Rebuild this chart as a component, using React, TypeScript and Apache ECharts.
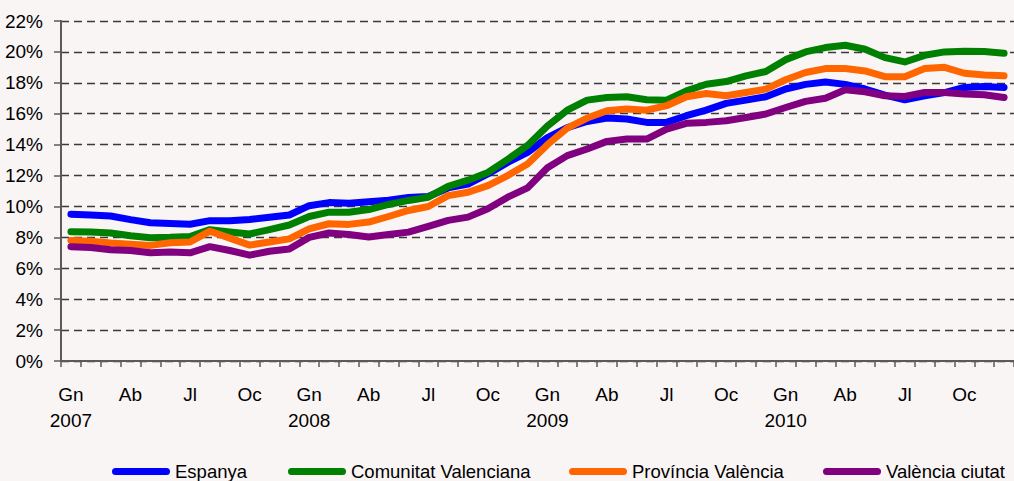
import React, { useEffect, useRef } from "react";
import * as echarts from "echarts";

const monthAbbr = ["Gn", "Fb", "Mç", "Ab", "Mg", "Jn", "Jl", "Ag", "St", "Oc", "Nv", "Ds"];
const years = ["2007", "2008", "2009", "2010"];
const categories: string[] = years.flatMap((y) => monthAbbr.map((m) => `${m} ${y}`));

const seriesNames = ["Espanya", "Comunitat Valenciana", "Província València", "València ciutat"];
const seriesColors = ["#0000FF", "#008000", "#FF6600", "#800080"];

const espanya = [
  9.5, 9.45, 9.38, 9.15, 8.95, 8.9, 8.85, 9.08, 9.08, 9.15, 9.3, 9.45,
  10.05, 10.25, 10.2, 10.3, 10.4, 10.58, 10.65, 11.2, 11.45, 12.1, 12.85, 13.5,
  14.45, 15.1, 15.5, 15.72, 15.66, 15.44, 15.44, 15.87, 16.23, 16.67, 16.88, 17.1,
  17.6, 17.9, 18.05, 17.9, 17.6, 17.2, 16.9, 17.16, 17.37, 17.7, 17.76, 17.7,
];
const comunitat = [
  8.37, 8.35, 8.28, 8.1, 7.98, 8.0, 8.05, 8.5, 8.35, 8.22, 8.5, 8.8,
  9.35, 9.63, 9.63, 9.8, 10.13, 10.39, 10.6, 11.3, 11.7, 12.2, 13.05, 13.95,
  15.2, 16.23, 16.88, 17.05, 17.1, 16.9, 16.88, 17.48, 17.91, 18.08, 18.45, 18.73,
  19.5, 20.0, 20.28, 20.43, 20.17, 19.63, 19.35, 19.78, 20.0, 20.04, 20.02, 19.92,
];
const provincia = [
  7.8, 7.75, 7.63, 7.55, 7.48, 7.65, 7.7, 8.4, 7.95, 7.5, 7.7, 7.9,
  8.55, 8.88, 8.84, 8.99, 9.35, 9.74, 10.0, 10.7, 10.92, 11.35, 12.0, 12.75,
  14.0, 15.07, 15.72, 16.19, 16.3, 16.23, 16.52, 17.1, 17.31, 17.16, 17.37, 17.59,
  18.2, 18.67, 18.92, 18.92, 18.77, 18.4, 18.4, 18.92, 19.0, 18.62, 18.5, 18.45,
];
const ciutat = [
  7.4, 7.35, 7.2, 7.15, 7.0, 7.05, 7.0, 7.4, 7.15, 6.85, 7.1, 7.25,
  8.0, 8.28, 8.19, 8.02, 8.19, 8.34, 8.71, 9.1, 9.31, 9.85, 10.6, 11.2,
  12.5, 13.29, 13.72, 14.21, 14.36, 14.36, 15.01, 15.38, 15.44, 15.55, 15.76, 15.98,
  16.4, 16.8, 17.0, 17.55, 17.42, 17.16, 17.12, 17.37, 17.37, 17.27, 17.23, 17.05,
];
const seriesData = [espanya, comunitat, provincia, ciutat];
const legendLefts = [112, 288, 569, 823];

const FONT = "'Liberation Sans', Arial, sans-serif";
const ICON = "path://M3.5,0 H54.5 A3.5,3.5 0 0 1 54.5,7 H3.5 A3.5,3.5 0 0 1 3.5,0 Z";

export default function App() {
  const ref = useRef<HTMLDivElement>(null);
  useEffect(() => {
    if (!ref.current) return;
    const chart = echarts.init(ref.current, undefined, { renderer: "svg" });
    chart.setOption({
      animation: false,
      backgroundColor: "#FAF5F5",
      textStyle: { fontFamily: FONT },
      grid: { left: 61, top: 21, bottom: 120, right: -11 },
      legend: seriesNames.map((n, i) => ({
        data: [n],
        left: legendLefts[i],
        top: 462,
        padding: 0,
        itemWidth: 58,
        itemHeight: 7,
        icon: ICON,
        textStyle: { fontFamily: FONT, fontSize: 18.5, color: "#000", lineHeight: 18 },
      })),
      xAxis: {
        type: "category",
        data: categories,
        boundaryGap: true,
        axisLine: { lineStyle: { color: "#5a5a5a", width: 2 } },
        axisTick: { show: true, length: 6, interval: 0, lineStyle: { color: "#5a5a5a", width: 1.5 } },
        axisLabel: {
          interval: 2,
          margin: 20,
          fontFamily: FONT,
          fontSize: 19,
          lineHeight: 26,
          color: "#000",
          formatter: (val: string) => {
            const [m, y] = val.split(" ");
            return m === "Gn" ? `${m}\n${y}` : m;
          },
        },
        splitLine: { show: false },
      },
      yAxis: {
        type: "value",
        min: 0,
        max: 22,
        interval: 2,
        axisLine: { show: true, lineStyle: { color: "#5a5a5a", width: 2 } },
        axisTick: { show: true, length: 7, lineStyle: { color: "#5a5a5a", width: 1.5 } },
        axisLabel: {
          margin: 18,
          fontFamily: FONT,
          fontSize: 19,
          color: "#000",
          formatter: "{value}%",
        },
        splitLine: { show: true, lineStyle: { color: "#3a3a3a", width: 1.3, type: [8, 5] } },
      },
      series: seriesNames.map((n, i) => ({
        name: n,
        type: "line",
        data: seriesData[i],
        showSymbol: false,
        symbol: "none",
        color: seriesColors[i],
        lineStyle: { color: seriesColors[i], width: 7, cap: "round", join: "round" },
        itemStyle: { color: seriesColors[i] },
      })),
    });
    return () => chart.dispose();
  }, []);
  return (
    <div
      ref={ref}
      style={{ position: "absolute", left: 0, top: 0, width: 1014, height: 481 }}
    />
  );
}
